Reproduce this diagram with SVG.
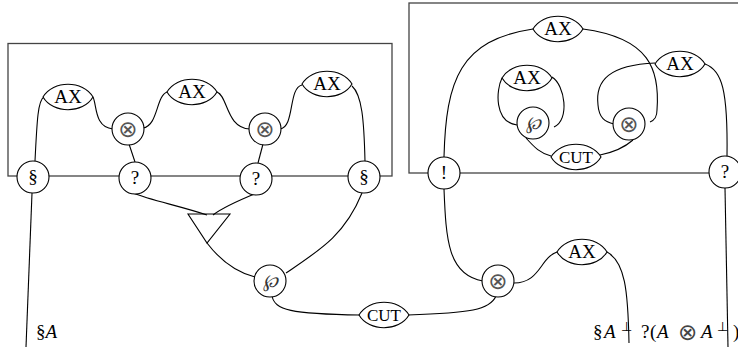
<svg xmlns="http://www.w3.org/2000/svg" width="738" height="350" viewBox="0 0 738 350">
<defs>
<style>
.box{fill:none;stroke:#444;stroke-width:1.3}
.c{fill:none;stroke:#000;stroke-width:1.1}
.n{fill:#fff;stroke:#000;stroke-width:1.1}
.t{font-family:"Liberation Serif",serif;font-size:19px;text-anchor:middle;fill:#000}
.cut{font-family:"Liberation Serif",serif;font-size:17px;text-anchor:middle;fill:#000}
.sym{font-family:"DejaVu Sans",sans-serif;font-size:23px;text-anchor:middle;fill:#555}
.par{font-family:"DejaVu Serif",serif;font-size:18px;text-anchor:middle;fill:#333;font-style:italic}
.lbl{font-family:"Liberation Serif",serif;font-size:19px;fill:#000}
.it{font-style:italic}
.sup{font-family:"DejaVu Sans",sans-serif;font-size:13px}
.ot{font-family:"DejaVu Sans",sans-serif;font-size:23px;fill:#444}
</style>
<path id="lens" d="M-25,0 C-15,-17 15,-17 25,0 C15,17 -15,17 -25,0 Z"/>
</defs>
<rect class="box" x="8" y="43.5" width="384" height="132.5"/>
<rect class="box" x="409" y="3" width="340" height="170"/>
<g id="connectors">
<path class="c" d="M35,161 C37,120 38,100 44,97"/>
<path class="c" d="M93,97 C97,105 94,127 113,129"/>
<path class="c" d="M143,128 C158,126 156,96 167,92"/>
<path class="c" d="M217,92 C228,96 226,128 250,129"/>
<path class="c" d="M280,129 C295,127 288,88 302,85"/>
<path class="c" d="M352,86 C362,95 364,120 365,161"/>
<path class="c" d="M129,144 L135,162"/>
<path class="c" d="M263,144 L258,163"/>
<path class="c" d="M444,157 C446,80 460,40 533,29"/>
<path class="c" d="M583,29 C650,38 660,70 657,110 C657,117 655,120 650,122"/>
<path class="c" d="M655,63 C610,65 595,80 598,105 C599,118 605,122 614,124"/>
<path class="c" d="M705,64 C722,70 728,90 727,157"/>
<path class="c" d="M502,78 C496,90 494,122 517,125"/>
<path class="c" d="M552,77 C565,85 570,120 554,127"/>
<path class="c" d="M526,138 C535,148 540,153 551,156"/>
<path class="c" d="M600,155 C615,152 625,147 633,140"/>
<path class="c" d="M32,193 L26,347"/>
<path class="c" d="M133,193 C150,200 180,206 207,215"/>
<path class="c" d="M257,193 C240,200 225,206 213,215"/>
<path class="c" d="M207,243 C220,260 235,272 255,277"/>
<path class="c" d="M362,193 C345,235 320,250 286,273"/>
<path class="c" d="M272,296 C275,310 290,314 360,315"/>
<path class="c" d="M408,315 C470,313 490,310 496,296"/>
<path class="c" d="M444,189 C446,240 448,275 483,281"/>
<path class="c" d="M514,283 C540,283 540,258 557,252"/>
<path class="c" d="M607,252 C625,262 628,290 629,343"/>
<path class="c" d="M725,188 L728,347"/>
</g>
<g id="tri"><path class="c" d="M188,214 L230,214 L207,243 Z"/></g>
<g id="sL"><circle class="n" cx="33" cy="177" r="16"/><text class="t" x="33" y="183">§</text></g>
<g id="q1"><circle class="n" cx="135" cy="178" r="16"/><text class="t" x="135" y="184">?</text></g>
<g id="q2"><circle class="n" cx="256" cy="179" r="16"/><text class="t" x="256" y="185">?</text></g>
<g id="sR"><circle class="n" cx="364" cy="177" r="16"/><text class="t" x="364" y="183">§</text></g>
<g id="t1"><circle class="n" cx="128" cy="129" r="16"/><text class="sym" x="128" y="137">⊗</text></g>
<g id="t2"><circle class="n" cx="265" cy="129" r="16"/><text class="sym" x="265" y="137">⊗</text></g>
<g id="ax1"><use href="#lens" class="n" x="68" y="97"/><text class="t" x="68" y="103">AX</text></g>
<g id="ax2"><use href="#lens" class="n" x="192" y="92"/><text class="t" x="192" y="98">AX</text></g>
<g id="ax3"><use href="#lens" class="n" x="327" y="84"/><text class="t" x="327" y="90">AX</text></g>
<g id="bang"><circle class="n" cx="444" cy="173" r="16"/><text class="t" x="444" y="179">!</text></g>
<g id="qR"><circle class="n" cx="725" cy="172" r="16"/><text class="t" x="725" y="178">?</text></g>
<g id="axTop"><use href="#lens" class="n" x="558" y="29"/><text class="t" x="558" y="35">AX</text></g>
<g id="axRight"><use href="#lens" class="n" x="680" y="64"/><text class="t" x="680" y="70">AX</text></g>
<g id="axInner"><use href="#lens" class="n" x="527" y="78"/><text class="t" x="527" y="84">AX</text></g>
<g id="parIn"><circle class="n" cx="533" cy="123" r="16"/><text class="par" x="533" y="129">℘</text></g>
<g id="tIn"><circle class="n" cx="629" cy="124" r="16"/><text class="sym" x="629" y="132">⊗</text></g>
<g id="cutIn"><use href="#lens" class="n" x="576" y="157"/><text class="cut" x="576" y="163">CUT</text></g>
<g id="parB"><circle class="n" cx="270" cy="281" r="16"/><text class="par" x="270" y="287">℘</text></g>
<g id="cutB"><use href="#lens" class="n" x="384" y="315"/><text class="cut" x="384" y="321">CUT</text></g>
<g id="tB"><circle class="n" cx="498" cy="281" r="16"/><text class="sym" x="498" y="289">⊗</text></g>
<g id="axB"><use href="#lens" class="n" x="582" y="252"/><text class="t" x="582" y="258">AX</text></g>
<text class="lbl" x="36" y="338">§<tspan class="it">A</tspan></text>
<text class="lbl" x="593" y="338">§<tspan class="it" x="604">A</tspan><tspan class="sup" x="621" y="331">⊥</tspan></text>
<text class="lbl" x="641" y="338">?<tspan x="650">(</tspan><tspan class="it" x="657">A</tspan><tspan class="ot" x="678" y="340">⊗</tspan><tspan class="it" x="701" y="338">A</tspan><tspan class="sup" x="717" y="331">⊥</tspan><tspan x="733" y="338">)</tspan></text>
</svg>
